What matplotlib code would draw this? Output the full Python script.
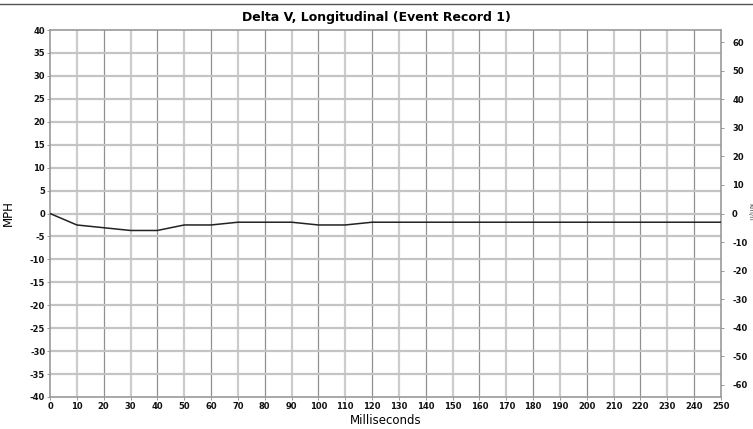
import matplotlib
matplotlib.use("Agg")
import matplotlib.pyplot as plt

plt.rcParams["axes.unicode_minus"] = False

# Delta V samples (ms, mph)
ms = [0, 10, 20, 30, 40, 50, 60, 70, 80, 90, 100, 110, 120, 130, 140, 150,
      160, 170, 180, 190, 200, 210, 220, 230, 240, 250]
mph = [0, -2.5, -3.1, -3.7, -3.7, -2.5, -2.5, -1.9, -1.9, -1.9, -2.5, -2.5, -1.9,
       -1.9, -1.9, -1.9, -1.9, -1.9, -1.9, -1.9, -1.9, -1.9, -1.9, -1.9, -1.9, -1.9]
x_ticks = list(range(0, 251, 10))
y_ticks = list(range(-40, 41, 5))
kmh_ticks = list(range(-60, 61, 10))

fig = plt.figure(figsize=(7.53, 4.29), dpi=100)
ax = fig.add_axes([50/753, 32/429, 671/753, 367/429])

ax.set_xlim(0, 250)
ax.set_ylim(-40, 40)

# grid: odd tens light/wide, even tens darker/thin
for x in x_ticks:
    if x in (0, 250):
        continue
    if (x // 10) % 2 == 1:
        ax.axvline(x, color="#cccccc", lw=1.6, zorder=1)
    else:
        ax.axvline(x, color="#909090", lw=0.9, zorder=1)
for y in y_ticks:
    if y in (-40, 40):
        continue
    ax.axhline(y, color="#c4c4c4", lw=1.6, zorder=1)

ax.plot(ms, mph, color="#222222", lw=1.1, zorder=3)

ax.set_xticks(x_ticks)
ax.set_yticks(y_ticks)
ax.tick_params(axis="both", labelsize=6, length=2, width=0.6, colors="#888888",
               labelcolor="#111111", pad=1.5)
for lab in ax.get_xticklabels() + ax.get_yticklabels():
    lab.set_fontweight("bold")
for s in ax.spines.values():
    s.set_color("#999999")
    s.set_linewidth(1.2)

ax.set_xlabel("Milliseconds", fontsize=8.5, labelpad=2)
ax.set_ylabel("MPH", fontsize=8.5)
ax.yaxis.set_label_coords(-0.052, 0.5)

# km/h secondary axis
ax2 = ax.twinx()
ax2.set_ylim(-40 * 1.609344, 40 * 1.609344)
ax2.set_yticks(kmh_ticks)
ax2.tick_params(axis="y", labelsize=6, length=2, width=0.6, colors="#888888",
                labelcolor="#111111", pad=6)
for lab in ax2.get_yticklabels():
    lab.set_fontweight("bold")
for s in ax2.spines.values():
    s.set_visible(False)

fig.text(747/753, 1 - 212/429, "km/h", rotation=270, fontsize=5,
         ha="left", va="center", color="#444444")

fig.suptitle("Delta V, Longitudinal (Event Record 1)", fontsize=9,
             fontweight="bold", y=1 - 18/429, va="center")
fig.add_artist(plt.Line2D([0, 1], [1 - 4/429, 1 - 4/429],
                          transform=fig.transFigure, color="#555555", lw=1))

fig.savefig("out.png", dpi=100)
